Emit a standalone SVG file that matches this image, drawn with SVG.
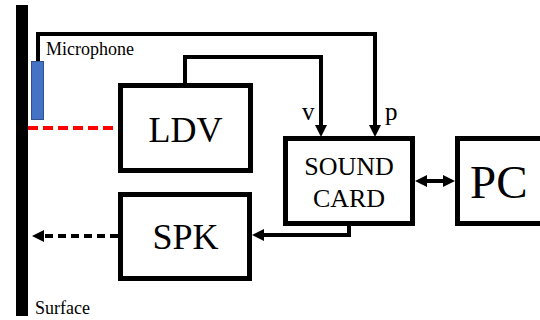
<svg xmlns="http://www.w3.org/2000/svg" width="540" height="320" viewBox="0 0 540 320">
<style>
.box{fill:#fff;stroke:#000;stroke-width:5}
.t{font-family:"Liberation Serif","Times New Roman",serif;fill:#000}
.w{fill:none;stroke:#000;stroke-width:4}
</style>
<defs>
<marker id="ah" viewBox="0 0 12 12" refX="1" refY="6" markerWidth="12" markerHeight="12" markerUnits="userSpaceOnUse" orient="auto-start-reverse">
<path d="M0,0 L12,6 L0,12 z" fill="#000"/>
</marker>
</defs>
<rect width="540" height="320" fill="#fff"/>
<g id="surface">
<rect x="16" y="5" width="12" height="311" fill="#000"/>
<text class="t" x="35" y="314" font-size="18">Surface</text>
</g>
<g id="microphone">
<rect x="31.5" y="61.5" width="12" height="58" fill="#4472C4" stroke="#2F528F" stroke-width="1"/>
<text class="t" x="46" y="55" font-size="18">Microphone</text>
</g>
<g id="connectors">
<path class="w" d="M38,61 V34 H375 V126" marker-end="url(#ah)"/>
<path class="w" d="M185,84 V57 H321 V126" marker-end="url(#ah)"/>
<path class="w" d="M426,181 H444" marker-start="url(#ah)" marker-end="url(#ah)"/>
<path class="w" d="M349,225 V235 H263" marker-end="url(#ah)"/>
<path class="w" d="M118,236 H43" stroke-dasharray="8 5" marker-end="url(#ah)"/>
<path d="M28,128 H118" fill="none" stroke="#FF0000" stroke-width="4" stroke-dasharray="10 5"/>
<text class="t" x="302" y="120" font-size="25">v</text>
<text class="t" x="385" y="120" font-size="25">p</text>
</g>
<g id="ldv">
<rect class="box" x="120.5" y="85.5" width="130" height="85"/>
<text class="t" x="185.5" y="142" font-size="36" text-anchor="middle">LDV</text>
</g>
<g id="spk">
<rect class="box" x="120.5" y="194.5" width="129" height="84"/>
<text class="t" x="185.5" y="249" font-size="36" text-anchor="middle">SPK</text>
</g>
<g id="soundcard">
<rect class="box" x="285.5" y="138.5" width="127" height="85"/>
<text class="t" x="349" y="175" font-size="26" text-anchor="middle">SOUND</text>
<text class="t" x="349" y="207" font-size="26" text-anchor="middle">CARD</text>
</g>
<g id="pc">
<rect class="box" x="457.5" y="138.5" width="100" height="85"/>
<text class="t" x="470" y="198" font-size="47">PC</text>
</g>
</svg>
